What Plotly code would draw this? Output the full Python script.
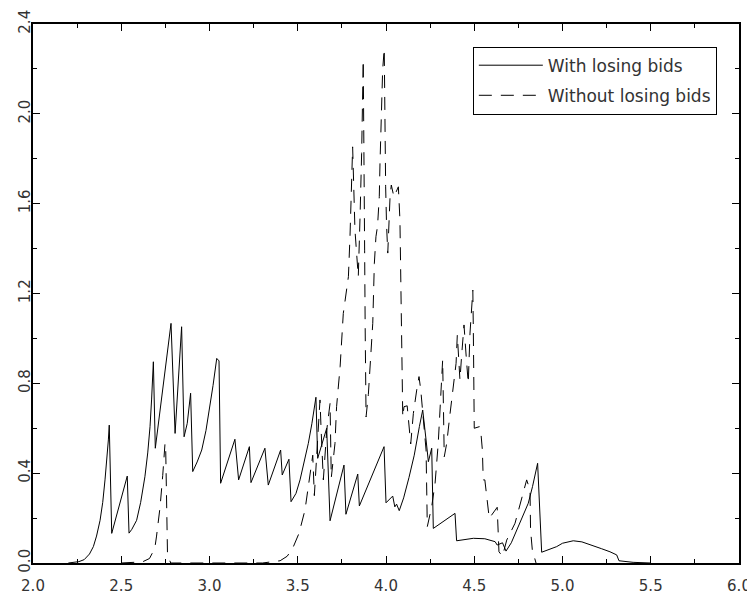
import plotly.graph_objects as go

# "With losing bids" (solid)
with_x = [2.20, 2.22, 2.26, 2.29, 2.32, 2.342, 2.36, 2.38, 2.395, 2.408, 2.418, 2.427,
          2.432, 2.446, 2.534, 2.544, 2.56, 2.587, 2.61, 2.634, 2.65, 2.663, 2.672,
          2.682, 2.693, 2.738, 2.782, 2.805, 2.842, 2.856, 2.874, 2.893, 2.905, 2.93,
          2.956, 2.98, 3.003, 3.02, 3.041, 3.054, 3.063, 3.144, 3.165, 3.226, 3.235,
          3.314, 3.333, 3.403, 3.412, 3.45, 3.462, 3.49, 3.513, 3.535, 3.56, 3.58,
          3.603, 3.613, 3.664, 3.683, 3.762, 3.773, 3.84, 3.849, 3.989, 4.0, 4.038,
          4.05, 4.06, 4.075, 4.10, 4.13, 4.16, 4.189, 4.208, 4.227, 4.24, 4.259,
          4.268, 4.391, 4.40, 4.495, 4.56, 4.618, 4.63, 4.66, 4.68, 4.71, 4.74,
          4.77, 4.806, 4.83, 4.859, 4.882, 4.967, 5.0, 5.061, 5.11, 5.156, 5.22,
          5.269, 5.307, 5.32, 5.40, 5.50]
with_y = [0.0, 0.001, 0.006, 0.015, 0.04, 0.073, 0.12, 0.19, 0.27, 0.37, 0.45, 0.548,
          0.614, 0.132, 0.387, 0.133, 0.15, 0.19, 0.27, 0.384, 0.49, 0.607, 0.73,
          0.896, 0.511, 0.80, 1.067, 0.577, 1.052, 0.562, 0.622, 0.756, 0.407, 0.45,
          0.503, 0.59, 0.696, 0.79, 0.911, 0.90, 0.355, 0.551, 0.37, 0.518, 0.358,
          0.511, 0.347, 0.503, 0.392, 0.462, 0.273, 0.31, 0.37, 0.44, 0.533, 0.62,
          0.738, 0.466, 0.60, 0.188, 0.436, 0.217, 0.396, 0.254, 0.518, 0.268, 0.298,
          0.25, 0.262, 0.233, 0.29, 0.38, 0.48, 0.607, 0.681, 0.548, 0.451, 0.511,
          0.154, 0.221, 0.099, 0.11, 0.108, 0.095, 0.08, 0.09, 0.053, 0.09, 0.147,
          0.2, 0.266, 0.34, 0.444, 0.048, 0.073, 0.088, 0.099, 0.094, 0.08, 0.064,
          0.05, 0.036, 0.01, 0.003, 0.0]

# "Without losing bids" (dashed)
without_x = [2.50, 2.62, 2.66, 2.69, 2.70, 2.72, 2.735, 2.748, 2.752, 2.757, 2.762, 2.78,
             3.30, 3.40, 3.44, 3.471, 3.507, 3.541, 3.569, 3.585, 3.594, 3.615, 3.626,
             3.632, 3.645, 3.664, 3.683, 3.69, 3.711, 3.72, 3.74, 3.758, 3.77, 3.787,
             3.796, 3.806, 3.811, 3.824, 3.834, 3.843, 3.853, 3.862, 3.871, 3.873,
             3.876, 3.879, 3.882, 3.887, 3.90, 3.925, 3.934, 3.943, 3.952, 3.962,
             3.966, 3.975, 3.981, 3.99, 3.994, 3.998, 4.003, 4.01, 4.023, 4.03, 4.045,
             4.07, 4.079, 4.082, 4.085, 4.09, 4.095, 4.102, 4.12, 4.14, 4.155, 4.174,
             4.187, 4.197, 4.208, 4.215, 4.227, 4.23, 4.234, 4.259, 4.278, 4.296,
             4.316, 4.321, 4.33, 4.344, 4.363, 4.381, 4.397, 4.404, 4.419, 4.428,
             4.442, 4.453, 4.466, 4.476, 4.486, 4.492, 4.495, 4.498, 4.50, 4.529,
             4.538, 4.546, 4.551, 4.56, 4.574, 4.585, 4.63, 4.636, 4.64, 4.66, 4.684,
             4.731, 4.769, 4.797, 4.816, 4.819, 4.829, 4.85]
without_y = [0.0, 0.005, 0.02, 0.065, 0.12, 0.25, 0.39, 0.533, 0.50, 0.30, 0.04, 0.0,
             0.0, 0.01, 0.03, 0.065, 0.132, 0.236, 0.40, 0.48, 0.30, 0.55, 0.726,
             0.6, 0.37, 0.59, 0.711, 0.38, 0.533, 0.696, 0.874, 1.111, 1.17, 1.275,
             1.453, 1.735, 1.853, 1.483, 1.393, 1.275, 1.542, 1.824, 2.24, 1.88,
             1.63, 1.393, 1.05, 0.65, 0.75, 1.067, 1.334, 1.453, 1.5, 1.631,
             1.78, 2.047, 2.195, 2.29, 1.794, 1.675, 1.51, 1.38, 1.631, 1.683, 1.63,
             1.675, 1.527, 1.334, 1.18, 0.9, 0.65, 0.696, 0.70, 0.53, 0.666, 0.77,
             0.83, 0.77, 0.68, 0.62, 0.503, 0.356, 0.162, 0.251, 0.355, 0.533,
             0.80, 0.904, 0.473, 0.533, 0.666, 0.80, 0.889, 1.015, 0.815, 0.918,
             1.06, 0.935, 0.80, 1.024, 1.157, 1.215, 1.02, 0.651, 0.6, 0.607,
             0.577, 0.503, 0.37, 0.37, 0.266, 0.199, 0.248, 0.162, 0.05, 0.03, 0.102,
             0.177, 0.295, 0.37, 0.325, 0.147, 0.058, 0.0]

x_ticks = [2.0, 2.5, 3.0, 3.5, 4.0, 4.5, 5.0, 5.5, 6.0]
y_ticks = [0.0, 0.4, 0.8, 1.2, 1.6, 2.0, 2.4]

FONT = "DejaVu Sans"

fig = go.Figure()
fig.add_trace(go.Scatter(x=with_x, y=with_y, mode="lines", name="With losing bids",
                         legendgroup="a", line=dict(color="black", width=1)))
fig.add_trace(go.Scatter(x=without_x, y=without_y, mode="lines", name="Without losing bids",
                         legendgroup="b",
                         line=dict(color="black", width=1, dash="13px,9px")))

axis_common = dict(showgrid=False, zeroline=False, showline=True, linecolor="black",
                   linewidth=2, mirror="allticks", ticks="inside", ticklen=7,
                   tickcolor="black", tickwidth=1, automargin=False,
                   tickfont=dict(family=FONT, size=15, color="#333333"))

fig.update_xaxes(range=[2.0, 6.0], tickvals=x_ticks,
                 ticktext=[f"{v:.1f}" for v in x_ticks],
                 minor=dict(dtick=0.25, ticks="inside", ticklen=4, tickcolor="black"),
                 ticklabelstandoff=8, **axis_common)
fig.update_yaxes(range=[0.0, 2.4], tickvals=y_ticks,
                 ticktext=[f"{v:.1f}" for v in y_ticks], tickangle=-90,
                 minor=dict(dtick=0.2, ticks="inside", ticklen=4, tickcolor="black"),
                 ticklabelstandoff=-5, **axis_common)

# the page has an 8px body margin, so the figure is sized to fit inside it
fig.update_layout(
    width=747, height=586,
    margin=dict(l=25, r=16, t=16, b=31),
    plot_bgcolor="white", paper_bgcolor="white",
    font=dict(family=FONT, size=17, color="#333333"),
    legend=dict(x=0.623, y=0.958, xanchor="left", yanchor="top",
                bordercolor="black", borderwidth=1, bgcolor="white",
                itemwidth=64, tracegroupgap=5,
                font=dict(family=FONT, size=17, color="#333333")),
)

fig.write_html("out.html")
